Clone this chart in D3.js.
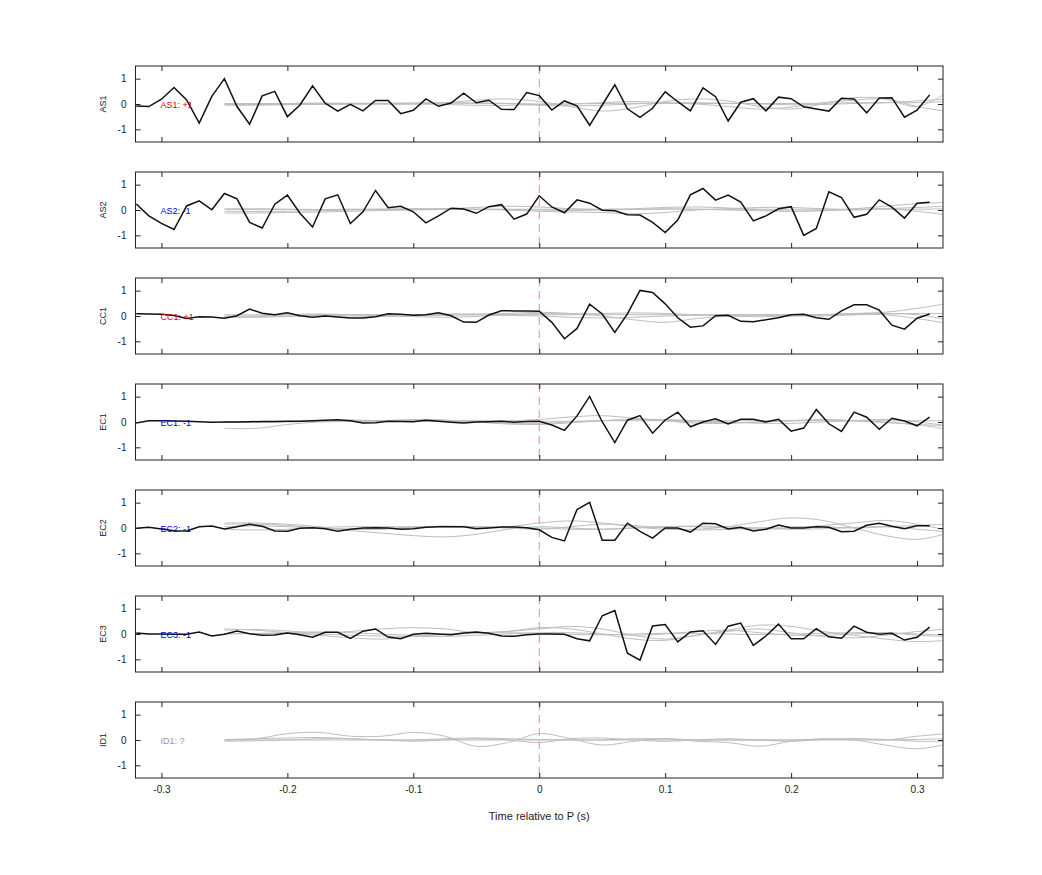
<!DOCTYPE html>
<html>
<head>
<meta charset="utf-8">
<script src="https://cdn.jsdelivr.net/npm/d3@7"></script>
<style>
  body { margin: 0; background: #fff; }
  svg { font-family: "Liberation Sans", Arial, sans-serif; }
</style>
</head>
<body>
<div id="chart"></div>
<script>
// channel names, polarity labels and colours
var channels = ['AS1', 'AS2', 'CC1', 'EC1', 'EC2', 'EC3', 'ID1'];
var labels = ['AS1: +1', 'AS2: -1', 'CC1: +1', 'EC1: -1', 'EC2: -1', 'EC3: -1', 'ID1: ?'];
var labelColors = ['#e00000', '#0000d0', '#e00000', '#0000d0', '#0000d0', '#0000d0', '#999999'];

// sample times of the black trace (s)
var times = d3.range(64).map(function (i) { return Math.round((-0.32 + i * 0.01) * 100) / 100; });
// sample times of the grey template traces (s)
var gTimes = d3.range(24).map(function (i) { return Math.round((-0.25 + i * 0.025) * 1000) / 1000; });

var xTicks = [-0.3, -0.2, -0.1, 0, 0.1, 0.2, 0.3];
var yTicks = [-1, 0, 1];

// black traces, one per channel (ID1 has none)
var traceAS1 = [-0.08,-0.1,0.19,0.65,0.16,-0.75,0.3,1.0,-0.1,-0.8,0.32,0.5,-0.5,-0.04,0.72,0.03,-0.28,-0.01,-0.27,0.14,0.14,-0.38,-0.25,0.2,-0.09,0.04,0.43,0.05,0.15,-0.21,-0.22,0.45,0.33,
  -0.24,0.12,-0.07,-0.84,-0.04,0.76,-0.19,-0.53,-0.17,0.48,0.09,-0.27,0.64,0.29,-0.67,0.07,0.21,-0.27,0.27,0.21,-0.11,-0.2,-0.28,0.23,0.2,-0.35,0.24,0.25,-0.52,-0.24,0.36];
var traceAS2 = [0.24,-0.23,-0.53,-0.77,0.16,0.36,0.01,0.65,0.44,-0.49,-0.71,0.23,0.59,-0.13,-0.67,0.44,0.6,-0.53,-0.07,0.77,0.09,0.15,-0.07,-0.51,-0.23,0.07,0.04,-0.13,0.13,0.21,-0.36,-0.16,0.56,
  0.12,-0.11,0.4,0.27,-0.01,-0.03,-0.19,-0.2,-0.49,-0.89,-0.4,0.6,0.85,0.39,0.59,0.31,-0.43,-0.23,0.05,0.13,-1.0,-0.73,0.72,0.49,-0.29,-0.17,0.4,0.11,-0.32,0.27,0.31];
var traceCC1 = [0.09,0.08,0.07,0.02,-0.1,-0.03,-0.04,-0.09,0.01,0.27,0.11,0.05,0.13,0.01,-0.05,0,-0.04,-0.08,-0.08,-0.03,0.09,0.07,0.03,0.05,0.13,0.01,-0.24,-0.25,0.04,0.21,0.2,0.2,0.19,
  -0.25,-0.9,-0.49,0.47,0.08,-0.65,0.08,1.01,0.93,0.48,-0.07,-0.44,-0.39,0.01,0.03,-0.21,-0.23,-0.15,-0.07,0.05,0.07,-0.07,-0.13,0.2,0.44,0.44,0.23,-0.36,-0.52,-0.09,0.08];
var traceEC1 = [-0.04,0.05,0.05,0.04,0.03,0.01,-0.01,0,0,0.01,0.02,0.02,0.03,0.03,0.05,0.07,0.09,0.05,-0.04,-0.03,0.03,0.02,0.01,0.07,0.03,-0.01,-0.04,0,0.01,0.03,-0.01,0.02,0.03,
  -0.12,-0.33,0.24,1.01,0.01,-0.81,0.07,0.25,-0.44,0.08,0.39,-0.19,0,0.13,-0.08,0.11,0.11,0,0.11,-0.36,-0.24,0.49,-0.07,-0.37,0.39,0.19,-0.29,0.15,0.04,-0.15,0.19];
var traceEC2 = [-0.01,0.03,-0.04,-0.11,-0.12,0.05,0.08,-0.04,0.05,0.15,0.07,-0.12,-0.13,-0.01,0.01,-0.03,-0.13,-0.05,0,0.01,0,-0.05,-0.03,0.03,0.05,0.05,0.05,-0.03,0,0.04,0.04,0.01,-0.07,
  -0.37,-0.51,0.73,1.01,-0.48,-0.48,0.19,-0.13,-0.4,0,0,-0.16,0.19,0.17,-0.04,0.03,-0.12,-0.05,0.12,0,0,0.05,0.03,-0.15,-0.13,0.11,0.19,0.07,-0.03,0.09,0.09];
var traceEC3 = [0.04,0,0,-0.01,-0.01,0.08,-0.08,-0.01,0.12,0.01,-0.05,-0.04,0.04,-0.03,-0.13,0.07,0.07,-0.17,0.11,0.2,-0.12,-0.19,-0.01,0.03,0,-0.03,0.04,0.08,0.03,-0.08,-0.09,-0.03,0,
  0,-0.01,-0.19,-0.27,0.72,0.93,-0.76,-1.03,0.32,0.37,-0.31,0.08,0.13,-0.41,0.31,0.43,-0.45,-0.08,0.39,-0.19,-0.19,0.21,-0.11,-0.17,0.31,0.07,-0.01,0.03,-0.24,-0.13,0.27];
var traces = [traceAS1, traceAS2, traceCC1, traceEC1, traceEC2, traceEC3, null];

// grey template traces, 4 per channel, sampled at gTimes
var greyAS1 = [
  [0,0,0.02,0.03,0.02,0,0,0.05,0.15,0.2,0.1,-0.1,-0.28,-0.15,0.1,0.2,0.12,-0.1,-0.2,0,0.25,0.2,-0.1,0.5],
  [-0.05,-0.05,-0.03,-0.02,0,0,0,-0.02,-0.05,-0.05,-0.02,0,0.05,0.1,0.05,0,-0.1,-0.2,-0.12,0.05,0.15,0.2,-0.1,-0.3],
  [0.02,0.02,0.02,0.03,0.03,0.03,0.03,0.03,0.03,0.02,0,0,0.02,0.03,0.03,0.02,0.02,0.02,0.02,0.03,0.05,0.05,0.05,0.1],
  [-0.02,-0.02,-0.02,-0.01,0,0.02,0.04,0.05,0.04,0.02,-0.05,-0.08,-0.05,0,0.04,0.05,0.03,0,-0.03,-0.02,0.02,0.05,0.12,0.2]];
var greyAS2 = [
  [-0.05,-0.06,-0.05,-0.03,0,0.02,0.03,0.05,0.1,0.15,0.12,0.05,0.02,0.05,0.1,0.12,0.08,0.02,-0.05,-0.02,0.05,0.15,0.25,0.3],
  [0.05,0.05,0.03,0.02,0.02,0.03,0.05,0.05,0.03,0,-0.05,-0.08,-0.1,-0.15,-0.1,0,0.05,0.1,0.1,0.05,0,0.05,0.1,0.15],
  [-0.12,-0.12,-0.1,-0.08,-0.05,-0.02,0,0.02,0.03,0.02,0,-0.02,0,0.02,0.05,0.03,0,-0.03,-0.05,-0.03,0.02,0.05,-0.05,-0.2],
  [0.02,0.02,0.02,0.02,0.03,0.03,0.03,0.03,0.03,0.03,0.03,0.03,0.03,0.03,0.03,0.03,0.03,0.03,0.03,0.03,0.03,0.03,0.03,0.05]];
var greyCC1 = [
  [0,0,0.05,0.08,0.05,0.03,0.05,0.08,0.08,0.1,0.15,0.1,0,-0.15,-0.25,-0.1,0,0.05,0.05,0.05,0.1,0.15,0.3,0.5],
  [-0.05,-0.05,-0.02,0.02,0.05,0.03,-0.02,-0.05,-0.02,0.05,0.1,0.08,0.1,0.12,0.1,0.05,0,-0.03,0,0.05,0.1,0.05,-0.1,-0.3],
  [0.05,0.05,0.05,0.05,0.05,0.05,0.05,0.05,0.05,0.05,0.05,0.05,0.05,0.05,0.05,0.05,0.05,0.05,0.05,0.05,0.05,0.08,0.1,0.1],
  [-0.02,-0.02,0,0.02,0,-0.02,0,0.03,0.05,0.03,0,-0.05,-0.08,-0.05,0,0.03,0.05,0.03,0,0,0.05,0.1,0.05,-0.15]];
var greyEC1 = [
  [-0.25,-0.25,-0.1,0,0.02,0.05,0.05,0.05,0.05,0.05,0.1,0.2,0.25,0.15,0.05,-0.05,-0.05,0,0.05,0.1,0.05,0,-0.1,-0.3],
  [0,0,0.02,0.05,0.08,0.05,0.05,0.05,0,-0.05,-0.05,0,0.05,0.1,0.1,0.05,0,-0.05,-0.05,0,0.05,0.1,0,-0.15],
  [0.02,0.02,0.02,0.03,0.03,0.03,0.03,0.03,0.03,0.03,0.03,0.03,0.05,0.05,0.05,0.05,0.05,0.05,0.05,0.05,0.05,0.05,0.05,0.05],
  [-0.02,-0.02,0,0.03,0.05,0.05,0.1,0.08,0,-0.08,-0.1,-0.03,0.05,0.1,0.05,0,-0.03,0,0.05,0.08,0.05,-0.02,-0.1,-0.15]];
var greyEC2 = [
  [0.15,0.15,0.1,0,-0.05,-0.05,0.02,0.08,0.05,0.05,0.2,0.28,0.2,0.05,-0.05,-0.05,0.05,0.25,0.4,0.3,0,-0.3,-0.45,-0.2],
  [0.2,0.2,0.15,0.05,-0.1,-0.2,-0.3,-0.35,-0.25,-0.05,0.05,0,-0.05,0,0.05,0.05,0,-0.05,0,0.1,0.2,0.3,0.15,-0.1],
  [-0.05,-0.08,-0.05,0.02,0.05,0.05,0.05,0.05,0.03,0,-0.05,0.05,0.15,0.1,0,-0.08,-0.05,0,0.05,0.05,0,0.05,0.1,0.15],
  [0.05,0.08,0.05,0,-0.05,-0.02,0.03,0.05,0.05,0.03,0,-0.05,-0.05,0,0.05,0.08,0.05,0,-0.05,-0.03,0.02,0.05,-0.05,-0.15]];
var greyEC3 = [
  [0.15,0.18,0.12,0.05,0.1,0.2,0.25,0.2,0.05,0.1,0.2,0.3,0.2,-0.05,-0.2,-0.05,0.1,0.2,0.05,-0.1,-0.15,-0.05,0.1,0.2],
  [0.2,0.15,0.05,-0.05,-0.15,-0.2,-0.1,0,0.05,0.1,0.25,0.2,0,-0.2,-0.25,-0.05,0.15,0.35,0.3,0.1,-0.05,-0.2,-0.3,-0.25],
  [0.02,0.02,0.02,0,-0.05,-0.08,-0.1,-0.1,-0.05,0,0.05,0.05,0,-0.05,0,0.1,0.15,0.05,-0.05,-0.05,0,0.05,-0.05,-0.1],
  [0,0.02,0.05,0.08,0.05,0,-0.05,-0.03,0.03,0.05,0.02,-0.02,-0.03,0,0.03,0.02,0,-0.02,0,0.03,0.05,0.05,0,-0.05]];
var greyID1 = [
  [0,0.05,0.25,0.3,0.15,0.15,0.3,0.15,-0.25,-0.1,0.25,0.05,-0.2,-0.05,0.05,-0.05,-0.1,-0.25,-0.05,0.05,0,-0.2,-0.35,-0.15],
  [-0.05,-0.03,0,0.05,0.05,0,-0.05,0,0.05,0,-0.1,0.05,0.08,0,-0.05,0,0.05,0,-0.05,0.02,0.05,0,0.15,0.25],
  [0.02,0.05,0.08,0.1,0.05,0,0,0.05,0.08,0.05,0.02,0,0,0.05,0.05,0,0,0,0,0.02,0.05,0.02,-0.05,-0.05],
  [0,0,0,0,0,0,0,0,0,0,0,0,0,0,0,0,0,0,0,0,0,0,0.02,0.05]];
var greys = [greyAS1, greyAS2, greyCC1, greyEC1, greyEC2, greyEC3, greyID1];

var width = 1042, height = 875;
var left = 135.5, right = 943, panelTop = 66, panelH = 76, panelStep = 106;

var svg = d3.select('#chart').append('svg')
  .attr('width', width)
  .attr('height', height);

var x = d3.scaleLinear().domain([-0.3206, 0.3206]).range([left, right]);
var y = d3.scaleLinear().domain([-1.5, 1.5]).range([panelH, 0]);

// plain hyphen for negatives, as in the original
var fmt = function (d) { return String(d); };

svg.append('defs').append('clipPath').attr('id', 'clip')
  .append('rect').attr('x', left).attr('y', 0).attr('width', right - left).attr('height', panelH);

var line = d3.line().x(function (d) { return x(d[0]); }).y(function (d) { return y(d[1]); });
var smooth = d3.line().curve(d3.curveCatmullRom)
  .x(function (d) { return x(d[0]); }).y(function (d) { return y(d[1]); });

channels.forEach(function (name, k) {
  var g = svg.append('g').attr('transform', 'translate(0,' + (panelTop + k * panelStep) + ')');
  var plot = g.append('g').attr('clip-path', 'url(#clip)');

  greys[k].forEach(function (vals) {
    plot.append('path')
      .datum(gTimes.map(function (t, i) { return [t, vals[i]]; }))
      .attr('d', smooth)
      .attr('fill', 'none')
      .attr('stroke', '#bdbdbd')
      .attr('stroke-width', 1);
  });

  // dashed marker at P arrival
  plot.append('line')
    .attr('x1', x(0)).attr('x2', x(0))
    .attr('y1', 0).attr('y2', panelH)
    .attr('stroke', '#f08a8a')
    .attr('stroke-dasharray', '8,5');

  if (traces[k]) {
    plot.append('path')
      .datum(times.map(function (t, i) { return [t, traces[k][i]]; }))
      .attr('d', line)
      .attr('fill', 'none')
      .attr('stroke', '#111')
      .attr('stroke-width', 1.5);
  }

  g.append('text')
    .attr('x', x(-0.3) - 1).attr('y', y(0) + 3.5)
    .attr('font-size', 9)
    .attr('fill', labelColors[k])
    .text(labels[k]);

  // axes with inward ticks on all four sides
  g.append('g').attr('transform', 'translate(0,' + panelH + ')')
    .call(d3.axisBottom(x).tickValues(xTicks).tickSizeInner(-5).tickSizeOuter(0)
      .tickFormat(k === channels.length - 1 ? fmt : ''))
    .call(function (a) { a.select('.domain').remove(); a.selectAll('text').attr('dy', '1.2em').attr('font-size', 10).attr('fill', '#222'); });
  g.append('g')
    .call(d3.axisTop(x).tickValues(xTicks).tickSizeInner(-5).tickSizeOuter(0).tickFormat(''))
    .call(function (a) { a.select('.domain').remove(); });
  g.append('g').attr('transform', 'translate(' + left + ',0)')
    .call(d3.axisLeft(y).tickValues(yTicks).tickSizeInner(-5).tickSizeOuter(0).tickFormat(fmt))
    .call(function (a) { a.select('.domain').remove(); a.selectAll('text').attr('dx', '-0.6em').attr('font-size', 10).attr('fill', '#222'); });
  g.append('g').attr('transform', 'translate(' + right + ',0)')
    .call(d3.axisRight(y).tickValues(yTicks).tickSizeInner(-5).tickSizeOuter(0).tickFormat(''))
    .call(function (a) { a.select('.domain').remove(); });
  g.selectAll('.tick line').attr('stroke', '#222');

  g.append('rect')
    .attr('x', left).attr('y', 0)
    .attr('width', right - left).attr('height', panelH)
    .attr('fill', 'none').attr('stroke', '#222').attr('stroke-width', 1);

  g.append('text')
    .attr('transform', 'translate(106,' + y(0) + ') rotate(-90)')
    .attr('text-anchor', 'middle')
    .attr('font-size', 9)
    .attr('fill', '#222')
    .text(name);
});

svg.append('text')
  .attr('x', x(0)).attr('y', 820)
  .attr('text-anchor', 'middle')
  .attr('font-size', 11)
  .attr('fill', '#222')
  .text('Time relative to P (s)');
</script>
</body>
</html>
